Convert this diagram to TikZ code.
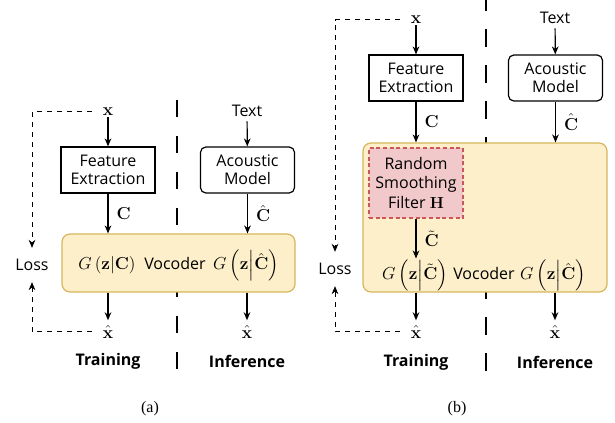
\RequirePackage{fix-cm}
\documentclass[tikz,border=0pt]{standalone}
\usepackage{amsmath}
\usepackage{amssymb}
\usepackage[no-math]{fontspec}
\setmainfont{Open Sans}
\newfontfamily\capfont{Liberation Serif}
\usetikzlibrary{positioning, calc, arrows.meta}

\definecolor{vocfill}{HTML}{FCEFC9}
\definecolor{vocline}{HTML}{D8B55B}
\definecolor{rsffill}{HTML}{F2C9CA}
\definecolor{rsfline}{HTML}{C9585A}

\tikzset{
	blk/.style={draw, line width=0.9pt, minimum width=70.5pt, minimum height=34.5pt, align=center, inner sep=1pt},
	voc/.style={draw=vocline, fill=vocfill, line width=0.9pt, rounded corners=6pt},
	rsf/.style={draw=rsfline, fill=rsffill, line width=0.9pt, dash pattern=on 3pt off 2pt, minimum width=70.5pt, minimum height=52.5pt, align=center, inner sep=1pt, font=\fontsize{12}{14.5}\selectfont},
	mth/.style={font=\fontsize{13}{15}\selectfont, inner sep=1pt},
	sig/.style={font=\fontsize{13}{15}\selectfont, inner sep=4pt},
	lbl/.style={font=\fontsize{13}{15}\selectfont, inner sep=1pt},
	flow/.style={->, line width=0.9pt},
	lossline/.style={->, line width=0.75pt, dash pattern=on 3.75pt off 3.75pt},
	divider/.style={line width=1.5pt, dash pattern=on 13pt off 14pt},
	phase/.style={font=\fontsize{12}{14}\selectfont\bfseries},
}

\begin{document}
\begin{tikzpicture}[x=0.75pt, y=-0.75pt, >={Stealth[length=6pt, width=5pt]}, font=\fontsize{12}{13.75}\selectfont]
	\useasboundingbox (0,0) rectangle (615,423);
	
	% (a) without filter
	\draw[divider] (177,100) -- (177,380);
	\node[mth] (xa) at (108,112) {$\mathbf{x}$};
	\node (texta) at (247,111) {Text};
	\node[blk] (feata) at (108,170) {Feature\\Extraction};
	\node[blk, rounded corners=4pt] (aca) at (247.5,170) {Acoustic\\Model};
	\node[voc, minimum width=174.75pt, minimum height=43.5pt] (voca) at (178.5,263) {};
	\node[mth, anchor=base] (ga) at (107,270) {$G\left(\mathbf{z}\middle|\mathbf{C}\right)$};
	\node[anchor=base, inner sep=1pt] (voctexta) at (175,270) {Vocoder};
	\node[mth, anchor=base] (gha) at (246,270) {$G\left(\mathbf{z}\middle|\hat{\mathbf{C}}\right)$};
	\node[sig] (xha) at (108,332) {$\hat{\mathbf{x}}$};
	\node[sig] (xhia) at (247,332) {$\hat{\mathbf{x}}$};
	\node (lossa) at (32,265) {Loss};
	\node[phase] (traina) at (108,361) {Training};
	\node[phase] (infa) at (247,361) {Inference};
	
	\draw[flow] (xa) -- (feata);
	\draw[flow] (feata) -- node[lbl, right=5pt] {$\mathbf{C}$} (feata |- voca.north);
	\draw[flow] (texta) -- (aca);
	\draw[flow] (aca) -- node[lbl, right=5pt] {$\hat{\mathbf{C}}$} (aca |- voca.north);
	\draw[flow] (xha |- voca.south) -- (xha);
	\draw[flow] (xhia |- voca.south) -- (xhia);
	\draw[lossline, shorten <=7pt, shorten >=5pt] (xa.west) -| (lossa.north);
	\draw[lossline, shorten <=4pt, shorten >=5pt] (xha.west) -| (lossa.south);
	
	% (b) with random smoothing filter
	\draw[divider, dash phase=5pt] (486,0) -- (486,378);
	\node[mth] (xb) at (416,20) {$\mathbf{x}$};
	\node (textb) at (555,18) {Text};
	\node[blk] (featb) at (416,78) {Feature\\Extraction};
	\node[blk, rounded corners=4pt] (acb) at (555.5,78) {Acoustic\\Model};
	\node[voc, minimum width=183pt, minimum height=111.75pt] (vocb) at (485,217.5) {};
	\node[rsf] (rsfb) at (416,183) {Random\\Smoothing\\Filter $\mathbf{H}$};
	\node[mth, anchor=base] (gb) at (415,280) {$G\left(\mathbf{z}\middle|\tilde{\mathbf{C}}\right)$};
	\node[anchor=base, inner sep=1pt] (voctextb) at (484,280) {Vocoder};
	\node[mth, anchor=base] (ghb) at (553,280) {$G\left(\mathbf{z}\middle|\hat{\mathbf{C}}\right)$};
	\node[sig] (xhb) at (416,332) {$\hat{\mathbf{x}}$};
	\node[sig] (xhib) at (555,332) {$\hat{\mathbf{x}}$};
	\node (lossb) at (335,269) {Loss};
	\node[phase] (trainb) at (416,362) {Training};
	\node[phase] (infb) at (555,362) {Inference};
	
	\draw[flow] (xb) -- (featb);
	\draw[flow] (featb) -- node[lbl, right=5pt] {$\mathbf{C}$} (featb |- vocb.north);
	\draw[flow] (textb) -- (acb);
	\draw[flow] (acb) -- node[lbl, right=5pt] {$\hat{\mathbf{C}}$} (acb |- vocb.north);
	\draw[flow] (rsfb) -- node[lbl, right=5pt] {$\tilde{\mathbf{C}}$} (rsfb |- gb.north);
	\draw[flow] (xhb |- vocb.south) -- (xhb);
	\draw[flow] (xhib |- vocb.south) -- (xhib);
	\draw[lossline, shorten <=7pt, shorten >=5pt] (xb.west) -| (lossb.north);
	\draw[lossline, shorten <=4pt, shorten >=5pt] (xhb.west) -| (lossb.south);
	
	% captions
	\node[font=\capfont\fontsize{12}{14}\selectfont] (capa) at (150,409) {(a)};
	\node[font=\capfont\fontsize{12}{14}\selectfont] (capb) at (457,409) {(b)};
\end{tikzpicture}
\end{document}
